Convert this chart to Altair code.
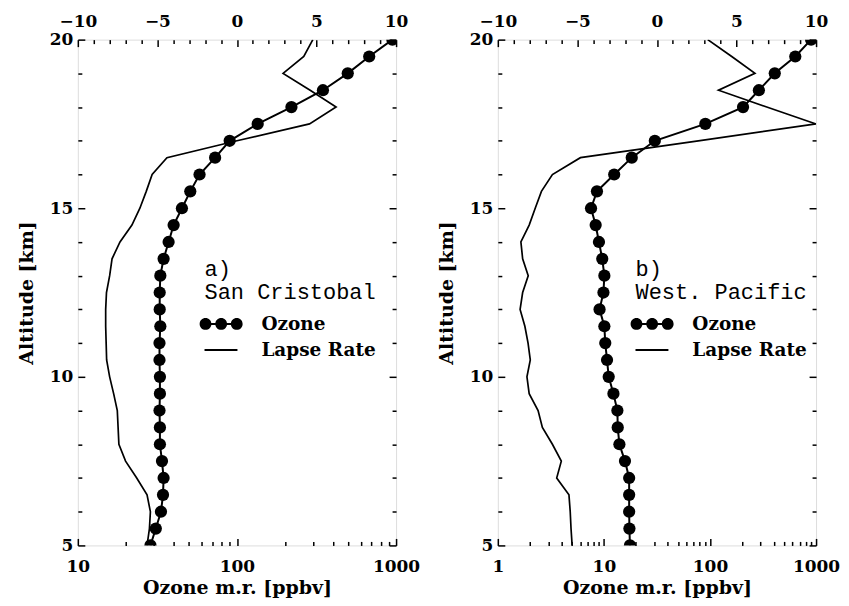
import altair as alt
import pandas as pd

altitude = [5.0, 5.5, 6.0, 6.5, 7.0, 7.5, 8.0, 8.5, 9.0, 9.5, 10.0, 10.5, 11.0, 11.5, 12.0,
            12.5, 13.0, 13.5, 14.0, 14.5, 15.0, 15.5, 16.0, 16.5, 17.0, 17.5, 18.0, 18.5,
            19.0, 19.5, 20.0]

ozone_a = [28.6, 30.9, 33.3, 34.3, 34.6, 33.8, 32.8, 32.8, 32.6, 32.8, 32.8, 32.6, 32.6,
           33.0, 32.7, 32.7, 33.0, 34.6, 37.2, 40.0, 45.1, 50.9, 58.2, 72.9, 90.0, 135.0,
           220.0, 347.0, 497.0, 678.0, 948.0]
lapse_a = [-5.65, -5.5, -5.44, -5.65, -6.3, -7.0, -7.42, -7.47, -7.52, -7.75, -8.0, -8.19,
           -8.22, -8.25, -8.25, -8.2, -8.0, -7.85, -7.35, -6.6, -6.1, -5.7, -5.33, -4.4,
           0.0, 4.56, 6.23, 4.6, 2.9, 4.2, 4.77]

ozone_b = [17.6, 17.4, 17.3, 17.3, 17.3, 15.8, 14.0, 13.5, 13.4, 12.3, 11.1, 10.7, 10.3,
           10.1, 9.1, 9.9, 10.1, 9.65, 8.98, 8.36, 7.56, 8.6, 12.5, 18.3, 30.2, 90.4,
           205.0, 289.0, 408.0, 637.0, 898.0]
lapse_b = [-5.33, -5.4, -5.45, -5.53, -6.3, -6.01, -6.57, -7.2, -7.47, -8.03, -8.17, -7.96,
           -8.1, -8.3, -8.6, -8.44, -8.09, -8.44, -8.55, -8.03, -7.65, -7.26, -6.57, -4.81,
           2.6, 10.0, 6.9, 3.87, 6.16, 4.7, 3.19]

series = ["Ozone", "Lapse Rate"]
y_major = [5, 10, 15, 20]
y_minor = [v for v in range(6, 20) if v % 5 != 0]
top_major = [-10, -5, 0, 5, 10]
top_minor = [v for v in range(-9, 10) if v % 5 != 0]
oz_major_a = [10, 100, 1000]
oz_major_b = [1, 10, 100, 1000]
oz_minor_a = [20, 30, 40, 50, 60, 70, 80, 90, 200, 300, 400, 500, 600, 700, 800, 900]
oz_minor_b = [2, 3, 4, 5, 6, 7, 8, 9] + oz_minor_a

FONT = "DejaVu Serif"
H = 507


def circ(cx, r):
    return f"M{cx - r:.2f},0a{r},{r} 0 1,1 {2 * r:.2f},0a{r},{r} 0 1,1 {-2 * r:.2f},0"


# legend glyphs (filled paths): three dots joined by a bar, and a plain bar
sym_oz = "M-0.9,-0.1H2.23V0.1H-0.9Z" + circ(-0.9, 0.59) + circ(0.67, 0.59) + circ(2.23, 0.59)
sym_lr = "M-1.0,-0.1H2.3V0.1H-1.0Z"


def ax(orient, values, size, labels=True, title=None, fmt="d", pad=8, tpad=8):
    kw = dict(orient=orient, values=values, tickSize=size, offset=-size, domain=False,
              grid=False, labels=labels, format=fmt, tickColor="black", tickWidth=1.5,
              labelFont=FONT, labelFontWeight="bold", labelFontSize=17, labelColor="black",
              labelPadding=pad, labelOverlap=False, labelFlush=False, titleFont=FONT,
              titleFontWeight="bold", titleFontSize=19, titleColor="black", titlePadding=tpad)
    kw["title"] = title if title is not None else ""
    return alt.Axis(**kw)


def panel(ozone, lapse, oz_dom, oz_major, oz_minor, label_lines, lx, width):
    df = pd.DataFrame({"alt": altitude, "ozone": ozone, "lapse": lapse})
    ys = alt.Scale(domain=[5, 20], nice=False, zero=False)
    lap_s = alt.Scale(domain=[-10, 10], nice=False, zero=False)
    oz_s = alt.Scale(type="log", domain=oz_dom, nice=False)
    base = alt.Chart(df)

    lapse_line = base.mark_line(color="black", strokeWidth=1.7, clip=True).encode(
        x=alt.X("lapse:Q", scale=lap_s, axis=ax("top", top_major, 7, pad=9)),
        y=alt.Y("alt:Q", scale=ys, axis=ax("left", y_major, 7, title="Altitude [km]", pad=5, tpad=13)),
        order="alt:Q",
    )
    oz_line = base.mark_line(color="black", strokeWidth=2, clip=True,
                             point=alt.OverlayMarkDef(filled=True, color="black", size=150, clip=True)).encode(
        x=alt.X("ozone:Q", scale=oz_s, axis=ax("bottom", oz_major, 7, title="Ozone m.r. [ppbv]", pad=13, tpad=4)),
        y=alt.Y("alt:Q", scale=ys, axis=ax("right", y_major, 7, labels=False)),
        order="alt:Q",
    )
    minor_a = base.mark_point(opacity=0).encode(
        x=alt.X("lapse:Q", scale=lap_s, axis=ax("top", top_minor, 4, labels=False)),
        y=alt.Y("alt:Q", scale=ys, axis=ax("left", y_minor, 4, labels=False)),
    ).transform_filter("false")
    leg_df = pd.DataFrame({"series": series, "alt": [None, None], "ozone": [None, None]})
    minor_b = alt.Chart(leg_df).mark_point(filled=True, color="black", size=400, opacity=1).encode(
        x=alt.X("ozone:Q", scale=oz_s, axis=ax("bottom", oz_minor, 4, labels=False)),
        y=alt.Y("alt:Q", scale=ys, axis=ax("right", y_minor, 4, labels=False)),
        shape=alt.Shape("series:N", scale=alt.Scale(domain=series, range=[sym_oz, sym_lr]),
                        legend=alt.Legend(orient="none", legendX=lx, legendY=220, padding=0,
                                          title=label_lines, titleFont="Liberation Mono",
                                          titleFontSize=22, titleFontWeight="normal",
                                          titleColor="black", titleLineHeight=23,
                                          titlePadding=10, titleLimit=400,
                                          labelFont=FONT, labelFontWeight="bold",
                                          labelFontSize=18.5, labelColor="black",
                                          labelOffset=37, rowPadding=6, symbolSize=400,
                                          symbolFillColor="black", symbolStrokeWidth=0,
                                          symbolOpacity=1)),
    ).transform_filter("datum.alt != null")

    return alt.layer(lapse_line, oz_line, minor_a, minor_b).resolve_scale(
        x="independent", y="shared").resolve_axis(x="independent", y="independent").properties(
        width=width, height=H)


left = panel(ozone_a, lapse_a, [10, 1000], oz_major_a, oz_minor_a, ["a)", "San Cristobal"], 127, 319)
right = panel(ozone_b, lapse_b, [1, 1000], oz_major_b, oz_minor_b, ["b)", "West. Pacific"], 138, 319)

chart = alt.hconcat(left, right, spacing=102, bounds="flush").resolve_scale(
    shape="independent").resolve_legend(shape="independent").configure_view(
    stroke="black", strokeWidth=2).configure(
    background="white", padding={"left": 8, "top": 3, "right": 0, "bottom": 0})

chart.save("out.html", embed_options={"renderer": "svg", "actions": False})
